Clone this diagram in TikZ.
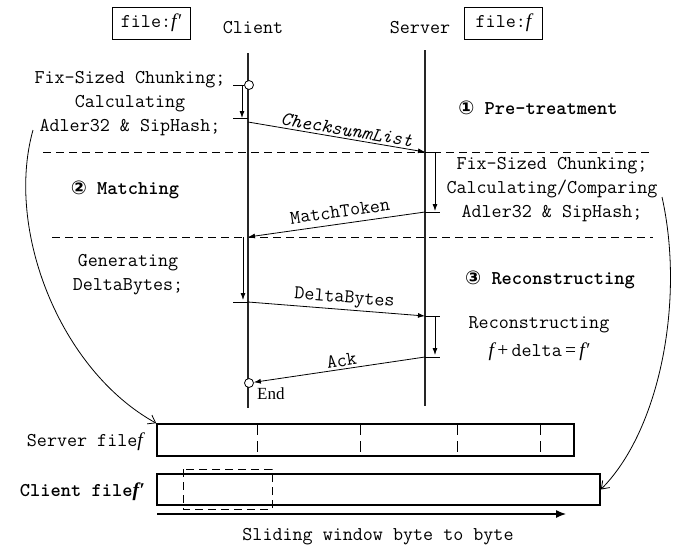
\documentclass[tikz,border=0pt]{standalone}
\usepackage{fontspec}
\newfontfamily\symfont{DejaVu Sans}
\newfontfamily\tmsfont{Liberation Serif}
\usetikzlibrary{arrows.meta}
\newcommand\fvar{{\tmsfont\itshape f}}
\newcommand\fprime{{\tmsfont\itshape f\kern0.3pt′}}
\newcommand\tsize{\fontsize{19.5}{24}\selectfont}
\newcommand\circnum[1]{{\symfont\fontsize{19}{24}\selectfont #1}}
\tikzset{
  txt/.style={font=\tsize\ttfamily, inner sep=0pt, align=center},
  ttl/.style={font=\tsize\ttfamily\bfseries, inner sep=0pt},
  hdrbox/.style={txt, draw, line width=0.8pt, minimum width=78pt, minimum height=32pt},
  life/.style={line width=2.6pt, draw=black!85},
  msg/.style={-{Latex[length=7pt,width=5pt]}, line width=0.8pt},
  down/.style={-{Latex[length=7pt,width=5pt]}, line width=0.8pt},
  tick/.style={line width=0.8pt},
  dashln/.style={dash pattern=on 8pt off 5pt, line width=0.8pt},
  evt/.style={circle, draw, fill=white, line width=0.8pt, minimum size=9pt, inner sep=0pt},
  lbl/.style={txt, sloped, above=2pt},
  filebox/.style={draw, line width=1.6pt, inner sep=0pt},
  divider/.style={dash pattern=on 11pt off 6pt, line width=1pt},
  curv/.style={-{Straight Barb[length=7pt,width=10pt]}, line width=0.8pt},
}
\begin{document}
\begin{tikzpicture}[x=1pt,y=-1pt]
\useasboundingbox (0,0) rectangle (678,549);
% headers
\node[hdrbox] (fcl) at (151,23) {file:\fprime};
\node[txt] (client) at (253,28) {Client};
\node[txt] (server) at (420,28) {Server};
\node[hdrbox] (fsv) at (503.5,23) {file:\fvar};
% dashed separators
\coordinate (d1L) at (43,152); \coordinate (d1R) at (653,152);
\coordinate (d2L) at (52,237); \coordinate (d2R) at (653,237);
\draw[dashln] (d1L) -- (d1R);
\draw[dashln] (d2L) -- (d2R);
% lifelines
\coordinate (cT) at (248,53); \coordinate (cB) at (248,408);
\coordinate (sT) at (425,50); \coordinate (sB) at (425,406);
\draw[life] (cT) -- (cB);
\draw[life] (sT) -- (sB);
% events
\node[evt] (start) at (249,85) {};
\node[evt] (end) at (249,383) {};
\node[txt, anchor=west, font=\fontsize{17}{24}\selectfont\tmsfont] (endl) at (257,394) {End};
% client step 1
\coordinate (a1) at (233,85); \coordinate (a2) at (242,85);
\coordinate (a3) at (242,118); \coordinate (a4) at (233,118); \coordinate (a5) at (248,118);
\draw[tick] (a1) -- (start.west);
\draw[down] (a2) -- (a3);
\draw[tick] (a4) -- (a5);
\node[txt] (ctext1) at (130,104) {Fix-Sized Chunking;\\Calculating\\Adler32 \& SipHash;};
% message 1
\coordinate (m1s) at (248,122); \coordinate (m1e) at (425,152);
\draw[msg] (m1s) -- node[lbl, pos=0.55, font=\tsize\ttfamily\itshape] {ChecksunmList} (m1e);
% server step 1
\coordinate (b1) at (425,152); \coordinate (b2) at (440,152);
\coordinate (b3) at (435,152); \coordinate (b4) at (435,211);
\coordinate (b5) at (425,212); \coordinate (b6) at (440,212);
\draw[tick] (b1) -- (b2);
\draw[down] (b3) -- (b4);
\draw[tick] (b5) -- (b6);
\node[txt] (stext1) at (552,190) {Fix-Sized Chunking;\\Calculating/Comparing\\Adler32 \& SipHash;};
% message 2
\coordinate (m2e) at (248,237);
\draw[msg] (b5) -- node[lbl, pos=0.47, above=4pt] {MatchToken} (m2e);
% client step 2
\coordinate (c1) at (243,237); \coordinate (c2) at (243,300);
\coordinate (c3) at (233,302); \coordinate (c4) at (248,302);
\draw[down] (c1) -- (c2);
\draw[tick] (c3) -- (c4);
\node[txt] (ctext2) at (128,275) {Generating\\DeltaBytes;};
% message 3
\coordinate (m3e) at (425,316);
\draw[msg] (c4) -- node[lbl, pos=0.54] {DeltaBytes} (m3e);
% server step 3
\coordinate (e1) at (440,316); \coordinate (e2) at (435,316);
\coordinate (e3) at (435,355); \coordinate (e4) at (425,357); \coordinate (e5) at (440,357);
\draw[tick] (m3e) -- (e1);
\draw[down] (e2) -- (e3);
\draw[tick] (e4) -- (e5);
\node[txt, font=\fontsize{19.5}{28}\selectfont\ttfamily] (stext3) at (539,339) {Reconstructing\\\fvar{\tmsfont\,+\,}delta{\tmsfont\,=\,}\fprime};
% message 4
\draw[msg] (e4) -- node[lbl, pos=0.48] {Ack} (end);
% phase titles
\node[ttl] (p1) at (538,108) {\circnum{①} Pre-treatment};
\node[ttl] (p2) at (125,190) {\circnum{②} Matching};
\node[ttl] (p3) at (550,280) {\circnum{③} Reconstructing};
% files
\node[filebox, minimum width=417pt, minimum height=32pt] (sfile) at (365.5,440) {};
\node[filebox, minimum width=443pt, minimum height=31pt] (cfile) at (378.5,489.5) {};
\foreach \xx in {257,360,457,540} \draw[divider] (\xx,424) -- (\xx,456);
\draw[dashln] (183,469) rectangle (272,509);
\node[txt, anchor=east] (slbl) at (143,442) {Server file\fvar};
\node[txt, anchor=east, font=\tsize\ttfamily\bfseries] (clbl) at (145,492) {Client file\fprime};
\coordinate (w1) at (157,514); \coordinate (w2) at (566,514);
\draw[-{Latex[length=10pt,width=8pt]}, line width=1.2pt] (w1) -- (w2);
\node[txt] (wlbl) at (378,537) {Sliding window byte to byte};
% curved arrows
\coordinate (cs1) at (33,130);
\draw[curv] (cs1) .. controls (5,230) and (60,370) .. (sfile.north west);
\coordinate (cs2) at (662,197);
\draw[curv] (cs2) .. controls (685,300) and (660,430) .. (cfile.east);
\end{tikzpicture}
\end{document}
